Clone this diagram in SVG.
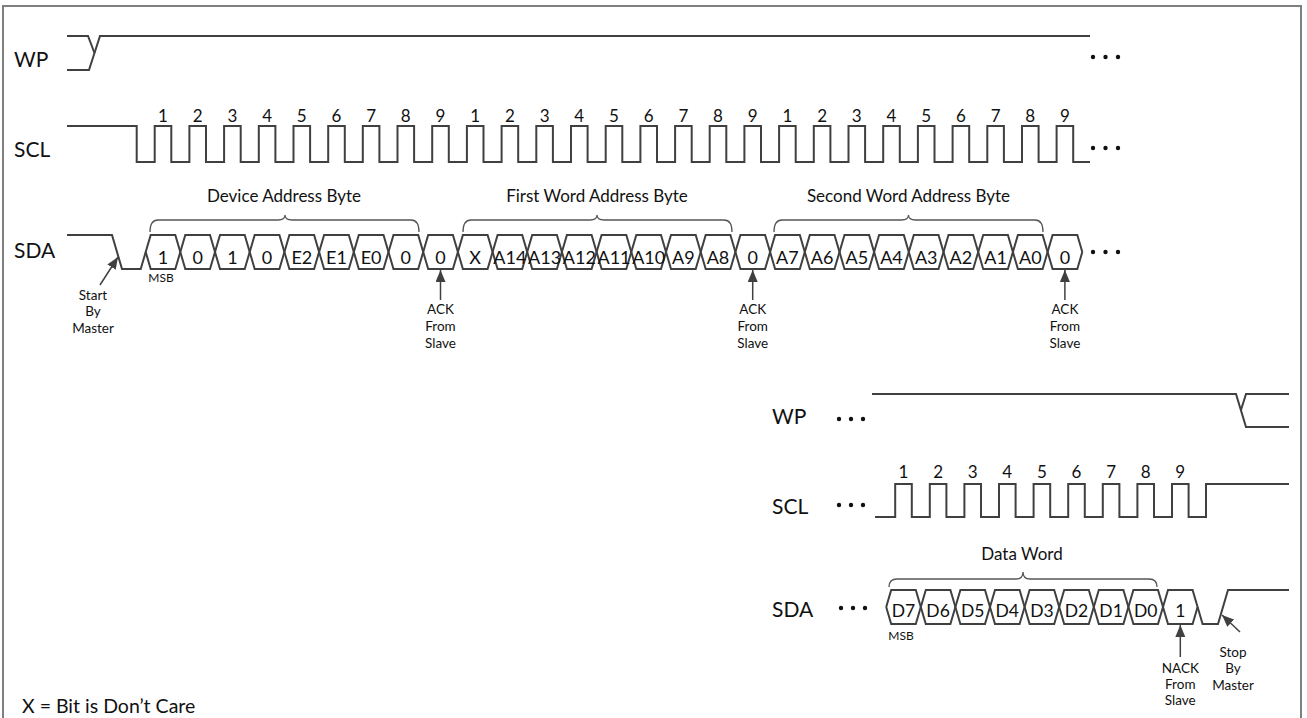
<svg xmlns="http://www.w3.org/2000/svg" width="1307" height="718" viewBox="0 0 1307 718">
<style>
text{font-family:Lato,"Open Sans","Liberation Sans",sans-serif;fill:#111}
.sig{fill:none;stroke:#404040;stroke-width:2;stroke-linejoin:miter}
.brace{fill:none;stroke:#555;stroke-width:1.3}
.lbl{font-size:21px}
.num{font-size:17px;text-anchor:middle}
.cell{font-size:18px;text-anchor:middle}
.cellb{font-size:17.5px;text-anchor:middle}
.hdr{font-size:17px;text-anchor:middle}
.small{font-size:13.5px;text-anchor:middle}
.msb{font-size:12px;text-anchor:middle}
.arr{fill:none;stroke:#404040;stroke-width:1.5}
.dot{fill:#111}
</style>
<defs>
<marker id="ah" viewBox="0 0 12 10" refX="12" refY="5" markerWidth="12" markerHeight="10" markerUnits="userSpaceOnUse" orient="auto">
<path d="M0,0 L12,5 L0,10 z" fill="#404040"/>
</marker>
</defs>
<rect x="3" y="6" width="1298" height="730" fill="#fff" stroke="#7f7f7f" stroke-width="2"/>

<g id="wp-top">
<text class="lbl" x="14" y="67">WP</text>
<path class="sig" d="M67,70 H89 L100,36 H1090"/>
<path class="sig" d="M67,36 H88 L94.5,53"/>
<circle class="dot" cx="1093" cy="57" r="2.2"/><circle class="dot" cx="1105.5" cy="57" r="2.2"/><circle class="dot" cx="1118" cy="57" r="2.2"/>
</g>

<g id="scl-top">
<text class="lbl" x="14" y="157">SCL</text>
<path class="sig" d="M67,126 H136.7 V162 H154.7 V126 H171.3 V162 H189.4 V126 H206 V162 H224.1 V126 H240.7 V162 H258.8 V126 H275.4 V162 H293.5 V126 H310.1 V162 H328.2 V126 H344.8 V162 H362.8 V126 H379.4 V162 H397.5 V126 H414.1 V162 H432.2 V126 H448.8 V162 H466.9 V126 H483.5 V162 H501.6 V126 H518.2 V162 H536.3 V126 H552.9 V162 H571 V126 H587.6 V162 H605.7 V126 H622.3 V162 H640.4 V126 H657 V162 H675.1 V126 H691.7 V162 H709.7 V126 H726.3 V162 H744.4 V126 H761 V162 H779.1 V126 H795.7 V162 H813.8 V126 H830.4 V162 H848.5 V126 H865.1 V162 H883.2 V126 H899.8 V162 H917.9 V126 H934.5 V162 H952.6 V126 H969.2 V162 H987.3 V126 H1003.9 V162 H1022 V126 H1038.6 V162 H1056.6 V126 H1073.2 V162 H1090"/>
<g class="nums">
<text class="num" x="163" y="122">1</text><text class="num" x="197.7" y="122">2</text><text class="num" x="232.4" y="122">3</text><text class="num" x="267.1" y="122">4</text><text class="num" x="301.8" y="122">5</text><text class="num" x="336.5" y="122">6</text><text class="num" x="371.1" y="122">7</text><text class="num" x="405.8" y="122">8</text><text class="num" x="440.5" y="122">9</text>
<text class="num" x="475.2" y="122">1</text><text class="num" x="509.9" y="122">2</text><text class="num" x="544.6" y="122">3</text><text class="num" x="579.3" y="122">4</text><text class="num" x="614" y="122">5</text><text class="num" x="648.7" y="122">6</text><text class="num" x="683.4" y="122">7</text><text class="num" x="718" y="122">8</text><text class="num" x="752.7" y="122">9</text>
<text class="num" x="787.4" y="122">1</text><text class="num" x="822.1" y="122">2</text><text class="num" x="856.8" y="122">3</text><text class="num" x="891.5" y="122">4</text><text class="num" x="926.2" y="122">5</text><text class="num" x="960.9" y="122">6</text><text class="num" x="995.6" y="122">7</text><text class="num" x="1030.3" y="122">8</text><text class="num" x="1064.9" y="122">9</text>
</g>
<circle class="dot" cx="1093" cy="148" r="2.2"/><circle class="dot" cx="1105.5" cy="148" r="2.2"/><circle class="dot" cx="1118" cy="148" r="2.2"/>
</g>

<g id="sda-top">
<text class="lbl" x="14" y="258">SDA</text>
<path class="sig" d="M67,235 H112 L122,269 H140.7 L150.7,235 H175.3 L185.3,269 H210 L220,235 H244.7 L254.7,269 H279.4 L289.4,235 H314.1 L324.1,269 H348.8 L358.8,235 H383.5 L393.5,269 H418.2 L428.2,235 H452.9 L462.9,269 H487.6 L497.6,235 H522.2 L532.2,269 H556.9 L566.9,235 H591.6 L601.6,269 H626.3 L636.3,235 H661 L671,269 H695.7 L705.7,235 H730.4 L740.4,269 H765.1 L775.1,235 H799.8 L809.8,269 H834.5 L844.5,235 H869.1 L879.1,269 H903.8 L913.8,235 H938.5 L948.5,269 H973.2 L983.2,235 H1007.9 L1017.9,269 H1042.6 L1052.6,235 H1077.3 L1082.3,252"/>
<path class="sig" d="M145.7,252 L150.7,269 H175.3 L185.3,235 H210 L220,269 H244.7 L254.7,235 H279.4 L289.4,269 H314.1 L324.1,235 H348.8 L358.8,269 H383.5 L393.5,235 H418.2 L428.2,269 H452.9 L462.9,235 H487.6 L497.6,269 H522.2 L532.2,235 H556.9 L566.9,269 H591.6 L601.6,235 H626.3 L636.3,269 H661 L671,235 H695.7 L705.7,269 H730.4 L740.4,235 H765.1 L775.1,269 H799.8 L809.8,235 H834.5 L844.5,269 H869.1 L879.1,235 H903.8 L913.8,269 H938.5 L948.5,235 H973.2 L983.2,269 H1007.9 L1017.9,235 H1042.6 L1052.6,269 H1077.3 L1082.3,252"/>
<g class="cells">
<text class="cell" x="163" y="264">1</text><text class="cell" x="197.7" y="264">0</text><text class="cell" x="232.4" y="264">1</text><text class="cell" x="267.1" y="264">0</text><text class="cell" x="301.8" y="264">E2</text><text class="cell" x="336.5" y="264">E1</text><text class="cell" x="371.1" y="264">E0</text><text class="cell" x="405.8" y="264">0</text><text class="cell" x="440.5" y="264">0</text>
<text class="cell" x="475.2" y="264">X</text><text class="cell" x="509.9" y="264">A14</text><text class="cell" x="544.6" y="264">A13</text><text class="cell" x="579.3" y="264">A12</text><text class="cell" x="614" y="264">A11</text><text class="cell" x="648.7" y="264">A10</text><text class="cell" x="683.4" y="264">A9</text><text class="cell" x="718" y="264">A8</text><text class="cell" x="752.7" y="264">0</text>
<text class="cell" x="787.4" y="264">A7</text><text class="cell" x="822.1" y="264">A6</text><text class="cell" x="856.8" y="264">A5</text><text class="cell" x="891.5" y="264">A4</text><text class="cell" x="926.2" y="264">A3</text><text class="cell" x="960.9" y="264">A2</text><text class="cell" x="995.6" y="264">A1</text><text class="cell" x="1030.3" y="264">A0</text><text class="cell" x="1064.9" y="264">0</text>
</g>
<circle class="dot" cx="1093" cy="252" r="2.2"/><circle class="dot" cx="1105.5" cy="252" r="2.2"/><circle class="dot" cx="1118" cy="252" r="2.2"/>
<text class="msb" x="161" y="282">MSB</text>
</g>

<g id="brace-device">
<path class="brace" d="M150,232 Q150,220 158,220 H278 Q285,220 285,215 Q285,220 292,220 H411 Q419,220 419,232"/>
<text class="hdr" x="284" y="202">Device Address Byte</text>
</g>
<g id="brace-first">
<path class="brace" d="M463,232 Q463,220 471,220 H590 Q597,220 597,215 Q597,220 604,220 H724 Q732,220 732,232"/>
<text class="hdr" x="597" y="202">First Word Address Byte</text>
</g>
<g id="brace-second">
<path class="brace" d="M774,232 Q774,220 782,220 H901.5 Q908.5,220 908.5,215 Q908.5,220 915.5,220 H1035 Q1043,220 1043,232"/>
<text class="hdr" x="908.5" y="202">Second Word Address Byte</text>
</g>

<g id="label-start">
<text class="small" x="93" y="300">Start</text>
<text class="small" x="93" y="316">By</text>
<text class="small" x="93" y="333">Master</text>
</g>
<g id="label-ack1">
<text class="small" x="440.5" y="314">ACK</text>
<text class="small" x="440.5" y="331">From</text>
<text class="small" x="440.5" y="348">Slave</text>
</g>
<g id="label-ack2">
<text class="small" x="752.7" y="314">ACK</text>
<text class="small" x="752.7" y="331">From</text>
<text class="small" x="752.7" y="348">Slave</text>
</g>
<g id="label-ack3">
<text class="small" x="1064.9" y="314">ACK</text>
<text class="small" x="1064.9" y="331">From</text>
<text class="small" x="1064.9" y="348">Slave</text>
</g>

<g id="wp-bottom">
<text class="lbl" x="772" y="424">WP</text>
<circle class="dot" cx="839" cy="419" r="2.2"/><circle class="dot" cx="851" cy="419" r="2.2"/><circle class="dot" cx="863" cy="419" r="2.2"/>
<path class="sig" d="M872,394 H1236 L1246,427 H1289"/>
<path class="sig" d="M1289,394 H1246 L1241,410"/>
</g>

<g id="scl-bottom">
<text class="lbl" x="772" y="514">SCL</text>
<circle class="dot" cx="839" cy="505" r="2.2"/><circle class="dot" cx="851" cy="505" r="2.2"/><circle class="dot" cx="863" cy="505" r="2.2"/>
<path class="sig" d="M875,517 H895.2 V484 H911.8 V517 H929.8 V484 H946.4 V517 H964.4 V484 H981 V517 H999 V484 H1015.6 V517 H1033.6 V484 H1050.2 V517 H1068.2 V484 H1084.8 V517 H1102.8 V484 H1119.4 V517 H1137.4 V484 H1154 V517 H1172 V484 H1188.6 V517 H1206 V484 H1289"/>
<text class="num" x="903.5" y="478">1</text><text class="num" x="938.1" y="478">2</text><text class="num" x="972.7" y="478">3</text><text class="num" x="1007.3" y="478">4</text><text class="num" x="1041.9" y="478">5</text><text class="num" x="1076.5" y="478">6</text><text class="num" x="1111.1" y="478">7</text><text class="num" x="1145.7" y="478">8</text><text class="num" x="1180.3" y="478">9</text>
</g>

<g id="sda-bottom">
<text class="lbl" x="772" y="617">SDA</text>
<circle class="dot" cx="841" cy="608" r="2.2"/><circle class="dot" cx="853" cy="608" r="2.2"/><circle class="dot" cx="865" cy="608" r="2.2"/>
<path class="sig" d="M886.2,607 L891.2,590 H915.8 L925.8,624 H950.4 L960.4,590 H985 L995,624 H1019.6 L1029.6,590 H1054.2 L1064.2,624 H1088.8 L1098.8,590 H1123.4 L1133.4,624 H1158 L1168,590 H1192.6 L1202.6,624 H1218 L1228,590 H1289"/>
<path class="sig" d="M886.2,607 L891.2,624 H915.8 L925.8,590 H950.4 L960.4,624 H985 L995,590 H1019.6 L1029.6,624 H1054.2 L1064.2,590 H1088.8 L1098.8,624 H1123.4 L1133.4,590 H1158 L1168,624 H1192.6 L1197.6,607"/>
<text class="cellb" x="903.5" y="617">D7</text><text class="cellb" x="938.1" y="617">D6</text><text class="cellb" x="972.7" y="617">D5</text><text class="cellb" x="1007.3" y="617">D4</text><text class="cellb" x="1041.9" y="617">D3</text><text class="cellb" x="1076.5" y="617">D2</text><text class="cellb" x="1111.1" y="617">D1</text><text class="cellb" x="1145.7" y="617">D0</text><text class="cellb" x="1180.3" y="617">1</text>
<text class="msb" x="901" y="640">MSB</text>
</g>

<g id="brace-data">
<path class="brace" d="M889,587 Q889,579 897,579 H1016 Q1023,579 1023,572 Q1023,579 1030,579 H1149 Q1157,579 1157,587"/>
<text class="hdr" x="1022" y="560">Data Word</text>
</g>

<g id="label-nack">
<text class="small" x="1180.3" y="673">NACK</text>
<text class="small" x="1180.3" y="689">From</text>
<text class="small" x="1180.3" y="705">Slave</text>
</g>
<g id="label-stop">
<text class="small" x="1233" y="657">Stop</text>
<text class="small" x="1233" y="673">By</text>
<text class="small" x="1233" y="690">Master</text>
</g>

<g id="connectors">
<line class="arr" x1="100" y1="285" x2="118" y2="257" marker-end="url(#ah)"/>
<line class="arr" x1="440.5" y1="300" x2="440.5" y2="270" marker-end="url(#ah)"/>
<line class="arr" x1="752.7" y1="300" x2="752.7" y2="270" marker-end="url(#ah)"/>
<line class="arr" x1="1064.9" y1="300" x2="1064.9" y2="270" marker-end="url(#ah)"/>
<line class="arr" x1="1180.3" y1="657" x2="1180.3" y2="625" marker-end="url(#ah)"/>
<line class="arr" x1="1240" y1="632" x2="1222" y2="615" marker-end="url(#ah)"/>
</g>

<text x="22" y="713" style="font-size:19.5px">X = Bit is Don’t Care</text>
</svg>
